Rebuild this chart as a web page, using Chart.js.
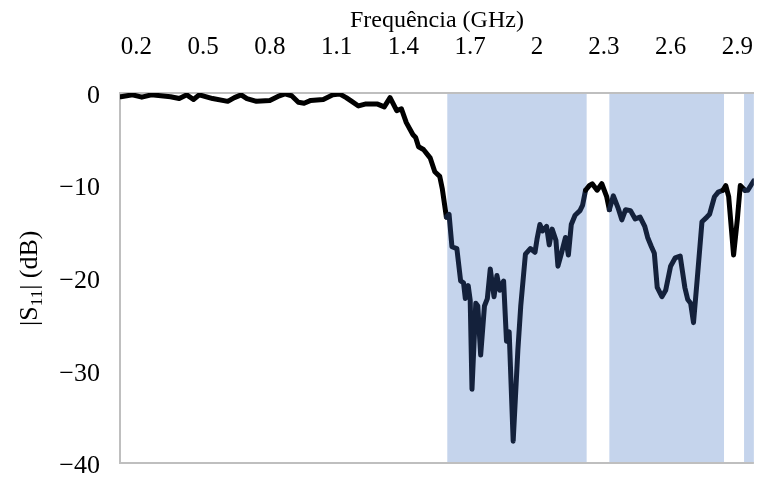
<!DOCTYPE html>
<html>
<head>
<meta charset="utf-8">
<script src="https://cdn.jsdelivr.net/npm/chart.js@4.4.1/dist/chart.umd.min.js"></script>
<style>
    html, body { margin: 0; padding: 0; background: #fff; }
    #wrap { width: 784px; height: 499px; position: relative; }
</style>
</head>
<body>
<div id="wrap"><canvas id="s11Chart"></canvas></div>
<script>
// frequency points (GHz) and |S11| (dB)
const freqs = [0.131, 0.183, 0.225, 0.268, 0.354, 0.393, 0.427, 0.457, 0.483, 0.543,
    0.611, 0.641, 0.671, 0.697, 0.740, 0.800, 0.843, 0.868, 0.898, 0.928,
    0.954, 0.984, 1.040, 1.083, 1.113, 1.143, 1.168, 1.198, 1.228, 1.284,
    1.314, 1.340, 1.370, 1.391, 1.413, 1.443, 1.455, 1.468, 1.490, 1.520,
    1.541, 1.563, 1.575, 1.593, 1.605, 1.618, 1.640, 1.657, 1.670, 1.678,
    1.691, 1.700, 1.708, 1.725, 1.734, 1.747, 1.764, 1.777, 1.790, 1.807,
    1.820, 1.833, 1.850, 1.863, 1.875, 1.893, 1.914, 1.927, 1.948, 1.970,
    1.991, 2.000, 2.013, 2.025, 2.043, 2.055, 2.068, 2.085, 2.094, 2.111,
    2.128, 2.141, 2.154, 2.171, 2.193, 2.205, 2.218, 2.235, 2.248, 2.270,
    2.291, 2.313, 2.325, 2.343, 2.364, 2.381, 2.398, 2.420, 2.441, 2.463,
    2.484, 2.497, 2.514, 2.527, 2.540, 2.561, 2.578, 2.600, 2.621, 2.643,
    2.664, 2.677, 2.690, 2.703, 2.720, 2.741, 2.763, 2.775, 2.797, 2.814,
    2.835, 2.848, 2.861, 2.883, 2.900, 2.913, 2.934, 2.947, 2.973];
const s11 = [-0.4, -0.2, -0.45, -0.2, -0.4, -0.6, -0.2, -0.7, -0.2, -0.6,
    -0.9, -0.5, -0.2, -0.6, -0.9, -0.8, -0.3, -0.1, -0.3, -1.0,
    -1.1, -0.8, -0.7, -0.2, -0.1, -0.5, -0.9, -1.4, -1.2, -1.2,
    -1.5, -0.5, -1.9, -1.7, -3.2, -4.5, -4.8, -5.8, -6.1, -7.0,
    -8.5, -9.0, -10.4, -13.4, -13.1, -16.6, -16.8, -20.3, -20.5, -22.2,
    -20.8, -22.4, -32.0, -22.7, -23.0, -28.3, -23.0, -22.2, -19.0, -22.0,
    -19.7, -21.3, -20.3, -26.8, -25.8, -37.6, -27.8, -23.0, -17.4, -16.8,
    -17.2, -15.8, -14.2, -14.9, -14.4, -16.4, -14.7, -15.9, -18.7, -17.2,
    -15.6, -17.5, -14.2, -13.2, -12.7, -12.1, -10.5, -10.0, -9.8, -10.5,
    -9.8, -11.2, -12.6, -11.1, -12.4, -13.7, -12.6, -12.7, -13.6, -13.4,
    -14.4, -15.6, -16.6, -17.3, -21.0, -22.0, -21.3, -18.7, -17.8, -17.6,
    -21.0, -22.3, -22.7, -24.8, -20.0, -13.9, -13.4, -13.1, -11.2, -10.7,
    -10.5, -10.0, -11.2, -17.5, -13.6, -10.0, -10.5, -10.5, -9.5];

// shaded frequency bands (GHz)
const bandStart = [1.597, 2.325, 2.930];
const bandEnd = [2.223, 2.840, 3.05];

const xTicks = [0.2, 0.5, 0.8, 1.1, 1.4, 1.7, 2.0, 2.3, 2.6, 2.9];
const yTicks = [0, -10, -20, -30, -40];

const FONT = "'Liberation Serif', 'Times New Roman', serif";
const GRAY = "#bfbfbf";

function inBand(f) {
    for (let i = 0; i < bandStart.length; i++) {
        if (f >= bandStart[i] && f <= bandEnd[i]) return true;
    }
    return false;
}

// shaded bands behind everything
const bandsPlugin = {
    id: "bands",
    beforeDraw(chart) {
        const { ctx, chartArea, scales } = chart;
        ctx.save();
        ctx.fillStyle = "#c5d4ec";
        for (let i = 0; i < bandStart.length; i++) {
            const x0 = Math.max(scales.x.getPixelForValue(bandStart[i]), chartArea.left);
            const x1 = Math.min(scales.x.getPixelForValue(bandEnd[i]), chartArea.right);
            ctx.fillRect(x0, chartArea.top, x1 - x0, chartArea.bottom - chartArea.top);
        }
        ctx.restore();
    }
};

// y title with a subscript: |S11| (dB)
const yTitlePlugin = {
    id: "yTitle",
    afterDraw(chart) {
        const { ctx, chartArea } = chart;
        const parts = [
            { t: "|S", size: 26, dy: 0 },
            { t: "11", size: 17, dy: 5 },
            { t: "| (dB)", size: 26, dy: 0 }
        ];
        ctx.save();
        let total = 0;
        parts.forEach(p => {
            ctx.font = p.size + "px " + FONT;
            p.w = ctx.measureText(p.t).width;
            total += p.w;
        });
        ctx.translate(37, (chartArea.top + chartArea.bottom) / 2);
        ctx.rotate(-Math.PI / 2);
        ctx.fillStyle = "#000";
        ctx.textBaseline = "alphabetic";
        let x = -total / 2;
        parts.forEach(p => {
            ctx.font = p.size + "px " + FONT;
            ctx.fillText(p.t, x, p.dy);
            x += p.w;
        });
        ctx.restore();
    }
};

const ctx = document.getElementById("s11Chart").getContext("2d");
const s11Chart = new Chart(ctx, {
    type: "line",
    data: {
        datasets: [{
            label: "|S11|",
            data: freqs.map((f, i) => ({ x: f, y: s11[i] })),
            borderColor: "#000",
            borderWidth: 5,
            pointRadius: 0,
            tension: 0,
            borderJoinStyle: "round",
            borderCapStyle: "round",
            segment: {
                borderColor: c => inBand((c.p0.parsed.x + c.p1.parsed.x) / 2) ? "#14213b" : "#000"
            }
        }]
    },
    options: {
        responsive: true,
        maintainAspectRatio: false,
        animation: false,
        layout: { padding: { left: 0, right: 0, top: 0, bottom: 9 } },
        plugins: {
            legend: { display: false },
            tooltip: { enabled: false }
        },
        scales: {
            x: {
                type: "linear",
                position: "top",
                min: 0.127,
                max: 2.974,
                afterBuildTicks: axis => {
                    axis.ticks = xTicks.map(v => ({ value: v }));
                },
                afterFit: axis => { axis.height = 93; },
                grid: { display: false, drawTicks: false },
                border: { display: true, color: GRAY, width: 2 },
                ticks: {
                    color: "#000",
                    font: { family: FONT, size: 25 },
                    padding: 31,
                    maxRotation: 0,
                    autoSkip: false,
                    callback: v => String(Number(v.toFixed(1)))
                },
                title: {
                    display: true,
                    text: "Frequência (GHz)",
                    color: "#000",
                    font: { family: FONT, size: 24 },
                    padding: { top: 6, bottom: 0 }
                }
            },
            y: {
                min: -40,
                max: 0,
                afterBuildTicks: axis => {
                    axis.ticks = yTicks.map(v => ({ value: v }));
                },
                afterFit: axis => { axis.width = 120; },
                grid: {
                    drawTicks: false,
                    lineWidth: 2,
                    color: c => c.tick && c.tick.value === -40 ? GRAY : "rgba(0,0,0,0)"
                },
                border: { display: true, color: GRAY, width: 2 },
                ticks: {
                    color: "#000",
                    font: { family: FONT, size: 26 },
                    padding: 20,
                    labelOffset: 3,
                    callback: v => v < 0 ? "\u2212" + Math.abs(v) : String(v)
                }
            }
        }
    },
    plugins: [bandsPlugin, yTitlePlugin]
});
</script>
</body>
</html>
